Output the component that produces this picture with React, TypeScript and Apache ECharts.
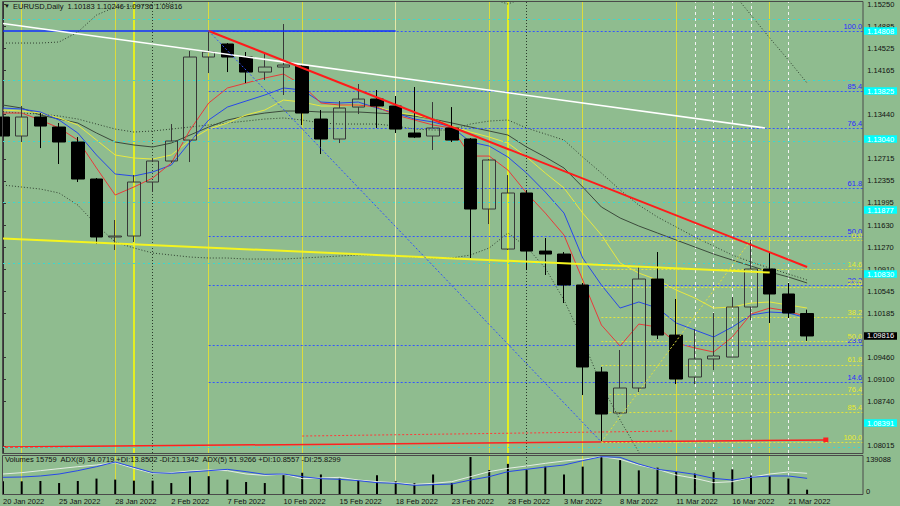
import React, { useEffect, useRef } from 'react';
import * as echarts from 'echarts';

const dates = ['20 Jan 2022','21 Jan 2022','24 Jan 2022','25 Jan 2022','26 Jan 2022','27 Jan 2022','28 Jan 2022','31 Jan 2022','1 Feb 2022','2 Feb 2022','3 Feb 2022','4 Feb 2022','7 Feb 2022','8 Feb 2022','9 Feb 2022','10 Feb 2022','11 Feb 2022','14 Feb 2022','15 Feb 2022','16 Feb 2022','17 Feb 2022','18 Feb 2022','21 Feb 2022','22 Feb 2022','23 Feb 2022','24 Feb 2022','25 Feb 2022','28 Feb 2022','1 Mar 2022','2 Mar 2022','3 Mar 2022','4 Mar 2022','7 Mar 2022','8 Mar 2022','9 Mar 2022','10 Mar 2022','11 Mar 2022','14 Mar 2022','15 Mar 2022','16 Mar 2022','17 Mar 2022','18 Mar 2022','21 Mar 2022','22 Mar 2022'];

const opens = [1.13400,1.13089,1.13400,1.13236,1.12991,1.12385,1.11436,1.11452,1.12336,1.12680,1.13023,1.14382,1.14595,1.14382,1.14136,1.14218,1.14235,1.13367,1.13040,1.13563,1.13694,1.13580,1.13138,1.13089,1.13220,1.13040,1.11894,1.11239,1.12156,1.11206,1.11157,1.10650,1.09226,1.08555,1.08964,1.10748,1.09831,1.09144,1.09439,1.09471,1.10290,1.10912,1.10503,1.10183];
const closes = [1.13089,1.13400,1.13252,1.12991,1.12385,1.11436,1.11452,1.12336,1.12680,1.13007,1.14382,1.14464,1.14382,1.14136,1.14218,1.14251,1.13465,1.13040,1.13547,1.13694,1.13580,1.13203,1.13072,1.13220,1.13023,1.11894,1.12696,1.12156,1.11206,1.11157,1.10650,1.09308,1.08538,1.08964,1.10748,1.09831,1.09111,1.09439,1.09488,1.10290,1.10912,1.10503,1.10192,1.09816];
const lows = [1.12942,1.12991,1.12892,1.12631,1.12336,1.11321,1.11223,1.11354,1.12172,1.12647,1.12663,1.14120,1.14136,1.13956,1.14005,1.13760,1.13269,1.12794,1.12974,1.13449,1.13220,1.13138,1.13056,1.12860,1.12991,1.11092,1.11648,1.11223,1.10895,1.10814,1.10355,1.08849,1.08080,1.08538,1.08898,1.09766,1.09029,1.09029,1.09258,1.09471,1.10077,1.10028,1.10110,1.09736];
const highs = [1.13596,1.13580,1.13465,1.13302,1.13072,1.12401,1.11714,1.12450,1.12729,1.13285,1.14480,1.14808,1.14611,1.14464,1.14447,1.14922,1.14267,1.13514,1.13662,1.13940,1.13842,1.13744,1.13891,1.13645,1.13563,1.13056,1.12712,1.12450,1.12205,1.11419,1.11190,1.10683,1.09308,1.09586,1.10945,1.11190,1.10421,1.09930,1.10192,1.10453,1.11386,1.11190,1.10683,1.10246];

const maRed = [1.13465,1.13465,1.13351,1.13220,1.13023,1.12565,1.12123,1.12254,1.12401,1.12647,1.13187,1.13629,1.13875,1.13956,1.14038,1.14104,1.13924,1.13629,1.13596,1.13596,1.13563,1.13433,1.13351,1.13269,1.13220,1.12761,1.12761,1.12532,1.12156,1.11828,1.11468,1.10732,1.09995,1.09651,1.10011,1.09962,1.09700,1.09619,1.09553,1.09799,1.10175,1.10273,1.10224,1.10126];
const maBlue = [1.13547,1.13531,1.13482,1.13351,1.13138,1.12778,1.12467,1.12434,1.12500,1.12614,1.12991,1.13351,1.13563,1.13662,1.13760,1.13875,1.13842,1.13645,1.13629,1.13645,1.13547,1.13465,1.13367,1.13318,1.13236,1.12991,1.12925,1.12745,1.12483,1.12172,1.11828,1.11092,1.10650,1.10273,1.10372,1.10273,1.10028,1.09913,1.09799,1.09962,1.10159,1.10208,1.10192,1.10110];
const maYellow = [1.13514,1.13498,1.13465,1.13384,1.13269,1.13023,1.12778,1.12729,1.12712,1.12778,1.13023,1.13203,1.13302,1.13433,1.13514,1.13678,1.13645,1.13580,1.13580,1.13596,1.13563,1.13482,1.13433,1.13367,1.13252,1.13154,1.13072,1.12974,1.12745,1.12483,1.12238,1.11828,1.11468,1.11010,1.10846,1.10732,1.10568,1.10437,1.10273,1.10290,1.10355,1.10372,1.10323,1.10273];
const maSlow = [1.13596,1.13547,1.13433,1.13367,1.13302,1.13138,1.12991,1.12942,1.12909,1.12974,1.13105,1.13236,1.13351,1.13416,1.13465,1.13498,1.13498,1.13482,1.13482,1.13482,1.13465,1.13449,1.13416,1.13367,1.13302,1.13236,1.13171,1.13105,1.12909,1.12745,1.12565,1.12254,1.11927,1.11747,1.11616,1.11501,1.11386,1.11272,1.11157,1.11059,1.10961,1.10863,1.10781,1.10683];
const bandMid = [1.13482,1.13465,1.13449,1.13416,1.13367,1.13285,1.13203,1.13154,1.13171,1.13203,1.13236,1.13269,1.13302,1.13334,1.13367,1.13384,1.13351,1.13302,1.13285,1.13285,1.13285,1.13252,1.13203,1.13187,1.13187,1.13285,1.13334,1.13351,1.13220,1.13122,1.13023,1.12745,1.12483,1.12205,1.11959,1.11763,1.11599,1.11436,1.11288,1.11141,1.11026,1.10928,1.10830,1.10732];
const bandLower = [1.12287,1.12254,1.12221,1.12156,1.11959,1.11632,1.11354,1.11256,1.11174,1.11141,1.11108,1.11092,1.11092,1.11075,1.11075,1.11075,1.11092,1.11108,1.11125,1.11141,1.11141,1.11125,1.11108,1.11092,1.11092,1.11141,1.11256,1.11501,1.11272,1.10928,1.10404,1.09750,1.09013,1.08440,1.07916,1.07294,null,null,null,null,null,null,null,null];
const bandUpper = [1.14611,1.14611,1.14611,1.14628,1.14791,1.15069,1.15200,1.15217,1.15233,1.15266,1.15479,1.15642,1.15800,1.15800,1.15800,1.15800,1.15800,1.15800,1.15800,1.15800,1.15800,1.15800,1.15800,1.15800,1.15800,1.15600,1.15348,1.15250,1.15364,1.15700,1.15700,1.15700,1.15700,1.15700,1.15700,1.15700,1.15700,1.15700,1.15700,1.15446,1.15069,1.14693,1.14333,1.13956];

const volumes = [46400,46400,47600,40100,47600,56400,52600,48900,48900,40100,63900,65200,52600,43900,40100,68900,77700,71400,56400,50100,68900,46400,40100,71400,40100,135300,87700,110300,87700,100200,71400,100200,139088,124000,86500,96500,81400,75200,80200,90200,67700,65200,56400,15759];
const adxBlue = [43.9,44.7,47.4,52.6,61.4,71.9,84.2,70.2,56.1,54.4,57.9,61.4,64.9,58.8,51.7,52.6,45.6,40.3,38.6,35.1,29.8,28.1,22.8,24.6,26.3,36.8,45.6,58.8,64.9,71.0,76.3,87.7,98.2,96.5,78.9,64.9,58.8,51.7,41.2,36.8,43.9,47.4,47.4,41.2];
const adxWhite = [52.6,56.1,61.4,66.7,71.9,76.3,82.4,67.5,54.4,56.1,60.5,63.1,61.4,52.6,49.1,52.6,40.3,42.1,43.9,36.8,32.5,29.8,25.4,28.1,32.5,45.6,58.8,67.5,73.7,80.7,86.8,91.2,98.2,91.2,76.3,64.9,50.0,41.2,29.8,32.5,43.9,52.6,57.9,54.4];

// price labels visible on the right axis (the ones under the coloured price tags are hidden in the reference)
const priceTicks = [1.08015,1.08740,1.09100,1.09460,1.10185,1.10545,1.10910,1.11270,1.11630,1.11995,1.12355,1.12715,1.13440,1.14165,1.14525,1.14885,1.15250];
const volTickLabels = ['139088', '0'];

const fibBlueLevels = [100.0, 85.4, 76.4, 61.8, 50.0, 38.2, 23.6, 14.6];
const fibBlueHigh = 1.14808, fibBlueHighIdx = 11;
const fibBlueLow = 1.08080, fibBlueLowIdx = 32;
const fibYellowLevels = [0.0, 14.6, 23.6, 38.2, 50.0, 61.8, 76.4, 85.4, 100.0];
const fibYellowHigh = 1.11386, fibYellowHighIdx = 40;
const fibYellowLow = 1.08080, fibYellowLowIdx = 32;

const cyanLevels = [1.14808, 1.13825, 1.13040, 1.11877, 1.10830, 1.08391];

const whiteTrend = [[0, 1.14932], [40.75, 1.13220]];
const redTrend = [[11, 1.14808], [43, 1.10945]];
const yellowTrend = [[0, 1.11413], [41, 1.10855]];
const blueHoriz = [[0, 1.14808], [21, 1.14808]];
const redBottom = [[0, 1.07998], [44, 1.08113]];
const redDashed = [[16, 1.08178], [35.8, 1.08260]];

const vYellow = [1, 6, 11, 16, 26, 31, 36, 41];
const vYellowBright = [7, 27];
const vPale = [21];
const vWhiteDash = [37, 38, 39, 40, 42];
const vBlackDot = [8, 28];

const headerText = 'EURUSD,Daily  1.10183 1.10246 1.09736 1.09816';
const volText = 'Volumes 15759  ADX(8) 34.0719 +DI:13.8502 -DI:21.1342  ADX(5) 51.9266 +DI:10.8557 -DI:25.8299';

const PAD = 3;
const cats = [...dates, ...Array(PAD).fill('')];
const xMax = cats.length - 1;
const yMax = 1.152827;
const yMin = 1.079002;
const volMax = 139088;
const FONT = 'Liberation Sans, Arial, sans-serif';
const FS = 7.5;

function verticalLines() {
  const d: any[] = [];
  vYellow.forEach(i => d.push({ xAxis: i, lineStyle: { color: '#dcdc3c', width: 1, type: 'solid' } }));
  vYellowBright.forEach(i => d.push({ xAxis: i, lineStyle: { color: '#ffff00', width: 1.5, type: 'solid' } }));
  vPale.forEach(i => d.push({ xAxis: i, lineStyle: { color: '#e4e8a8', width: 1, type: 'solid' } }));
  vWhiteDash.forEach(i => d.push({ xAxis: i, lineStyle: { color: '#f4f4f4', width: 1, type: [3, 3] } }));
  vBlackDot.forEach(i => d.push({ xAxis: i, lineStyle: { color: '#2a3a2a', width: 1, type: [1, 2] } }));
  return d;
}

export default function App() {
  const ref = useRef<HTMLDivElement>(null);
  useEffect(() => {
    if (!ref.current) return;
    const chart = echarts.init(ref.current, undefined, { renderer: 'svg' });

    const candleData = opens.map((o, i) => [o, closes[i], lows[i], highs[i]]);

    const blueFib = fibBlueLevels.map(L => {
      const p = fibBlueLow + (L / 100) * (fibBlueHigh - fibBlueLow);
      return [{ name: L.toFixed(1), coord: [fibBlueHighIdx, p] }, { coord: [xMax, p] }];
    });
    const yellowFib = fibYellowLevels.map(L => {
      const p = fibYellowHigh - (L / 100) * (fibYellowHigh - fibYellowLow);
      return [{ name: L.toFixed(1), coord: [fibYellowLowIdx, p] }, { coord: [xMax, p] }];
    });

    const lineBase = (data: any, color: string, width: number, type: any = 'solid', extra: any = {}) => ({
      type: 'line', xAxisIndex: 1, yAxisIndex: 0, data, symbol: 'none', silent: true,
      lineStyle: { color, width, type }, z: 6, ...extra,
    });

    const staticGraphic: any[] = [
      { type: 'rect', silent: true, z: 100, shape: { x: 2.5, y: 1.5, width: 860.5, height: 452 }, style: { fill: 'none', stroke: '#4a4a4a', lineWidth: 1 } },
      { type: 'rect', silent: true, z: 100, shape: { x: 2.5, y: 455.5, width: 860.5, height: 39 }, style: { fill: 'none', stroke: '#4a4a4a', lineWidth: 1 } },
      { type: 'text', silent: true, z: 100, left: 4, top: 3, style: { text: '▼', fontSize: 6, fill: '#111', fontFamily: FONT } },
      { type: 'text', silent: true, z: 100, left: 13, top: 2, style: { text: headerText, fontSize: FS, fill: '#111', fontFamily: FONT } },
      { type: 'text', silent: true, z: 100, left: 5, top: 455, style: { text: volText, fontSize: FS, fill: '#111', fontFamily: FONT } },
      { type: 'text', silent: true, z: 100, left: 866, top: 455, style: { text: volTickLabels[0], fontSize: FS, fill: '#111', fontFamily: FONT } },
      { type: 'text', silent: true, z: 100, left: 866, top: 487, style: { text: volTickLabels[1], fontSize: FS, fill: '#111', fontFamily: FONT } },
    ];

    const option: any = {
      animation: false,
      backgroundColor: '#8fbc8f',
      textStyle: { fontFamily: FONT },
      grid: [
        { left: 3, top: 2, width: 860.2, height: 451 },
        { left: 3, top: 456, width: 860.2, height: 38 },
      ],
      xAxis: [
        { type: 'category', gridIndex: 0, data: cats, boundaryGap: false, show: false },
        { type: 'value', gridIndex: 0, min: 0, max: xMax, show: false },
        {
          type: 'category', gridIndex: 1, data: cats, boundaryGap: false,
          axisLine: { show: false }, axisTick: { show: false }, splitLine: { show: false },
          axisLabel: { interval: 2, align: 'left', fontSize: FS, color: '#111', margin: 3, fontFamily: FONT },
        },
        { type: 'value', gridIndex: 1, min: 0, max: xMax, show: false },
      ],
      yAxis: [
        {
          type: 'value', gridIndex: 0, position: 'right', min: yMin, max: yMax,
          splitLine: { show: false },
          axisLine: { show: true, lineStyle: { color: '#333' } },
          axisTick: { show: true, length: 3, customValues: priceTicks, lineStyle: { color: '#333' } },
          axisLabel: { customValues: priceTicks, formatter: (v: number) => v.toFixed(5), fontSize: FS, color: '#111', margin: 4, fontFamily: FONT },
        },
        { type: 'value', gridIndex: 1, min: 0, max: volMax, show: false },
        { type: 'value', gridIndex: 1, min: 0, max: 100, show: false },
      ],
      series: [
        {
          type: 'candlestick', xAxisIndex: 0, yAxisIndex: 0, data: candleData, barWidth: 13, clip: false, z: 5,
          itemStyle: { color: 'rgba(0,0,0,0)', color0: '#000000', borderColor: '#383838', borderColor0: '#000000', borderWidth: 1 },
        },
        { type: 'line', xAxisIndex: 0, yAxisIndex: 0, data: bandUpper, symbol: 'none', lineStyle: { color: '#2f3f2f', width: 1, type: [1, 2] }, z: 3 },
        { type: 'line', xAxisIndex: 0, yAxisIndex: 0, data: bandMid, symbol: 'none', lineStyle: { color: '#2f3f2f', width: 1, type: [1, 2] }, z: 3 },
        { type: 'line', xAxisIndex: 0, yAxisIndex: 0, data: bandLower, symbol: 'none', lineStyle: { color: '#2f3f2f', width: 1, type: [1, 2] }, z: 3 },
        { type: 'line', xAxisIndex: 0, yAxisIndex: 0, data: maSlow, symbol: 'none', lineStyle: { color: '#3c4a3c', width: 1 }, z: 3 },
        { type: 'line', xAxisIndex: 0, yAxisIndex: 0, data: maYellow, symbol: 'none', lineStyle: { color: '#e8e840', width: 1 }, z: 3 },
        { type: 'line', xAxisIndex: 0, yAxisIndex: 0, data: maBlue, symbol: 'none', lineStyle: { color: '#2848e8', width: 1 }, z: 3 },
        { type: 'line', xAxisIndex: 0, yAxisIndex: 0, data: maRed, symbol: 'none', lineStyle: { color: '#e83a3a', width: 1 }, z: 3 },
        lineBase(redBottom.map((d, i) => i === redBottom.length - 1 ? { value: d, symbol: 'rect', symbolSize: 5 } : d), '#ff2020', 1.5, 'solid', {
          itemStyle: { color: '#ff2020' }, z: 2,
          markLine: { silent: true, symbol: ['none', 'none'], label: { show: false }, z: 1, data: verticalLines() },
        }),
        lineBase(redDashed, '#ff3a3a', 1, [2, 2]),
        lineBase(blueHoriz, '#1030ff', 1.5),
        lineBase(whiteTrend, '#ffffff', 1.5, 'solid', {
          markLine: {
            silent: true, symbol: ['none', 'none'], label: { show: false },
            data: cyanLevels.map(p => ({ yAxis: p, lineStyle: { color: '#3ad8d0', width: 1, type: [2, 3] } })),
          },
        }),
        lineBase(yellowTrend, '#f4f420', 2),
        lineBase(redTrend, '#ff1a1a', 2),
        lineBase([[fibBlueHighIdx, fibBlueHigh], [fibBlueLowIdx, fibBlueLow]], '#3050ff', 1, [2, 2], {
          markLine: {
            silent: true, symbol: ['none', 'none'],
            lineStyle: { color: '#3355ff', width: 1, type: [2, 2] },
            label: { show: true, position: 'insideEndTop', formatter: '{b}', color: '#2a2aff', fontSize: FS, distance: 1, fontFamily: FONT },
            data: blueFib,
          },
        }),
        lineBase([[fibYellowLowIdx, fibYellowLow], [fibYellowHighIdx, fibYellowHigh]], '#e0e040', 1, [2, 2], {
          markLine: {
            silent: true, symbol: ['none', 'none'],
            lineStyle: { color: '#e4e43c', width: 1, type: [2, 2] },
            label: { show: true, position: 'insideEndTop', formatter: '{b}', color: '#eaea30', fontSize: FS, distance: 1, fontFamily: FONT },
            data: yellowFib,
          },
        }),
        {
          type: 'bar', xAxisIndex: 2, yAxisIndex: 1, data: volumes, barWidth: 2, silent: true,
          itemStyle: { color: '#000000' }, z: 4,
        },
        {
          type: 'line', xAxisIndex: 3, yAxisIndex: 2, data: adxWhite.map((v, i) => [i, v]), symbol: 'none', silent: true,
          lineStyle: { color: '#e4ece4', width: 1 }, z: 5,
          markLine: { silent: true, symbol: ['none', 'none'], label: { show: false }, z: 1, data: verticalLines() },
        },
        {
          type: 'line', xAxisIndex: 3, yAxisIndex: 2, data: adxBlue.map((v, i) => [i, v]), symbol: 'none', silent: true,
          lineStyle: { color: '#2848e8', width: 1 }, z: 6,
        },
      ],
      graphic: staticGraphic,
    };
    chart.setOption(option);

    // price tags on the right axis, placed through the chart's own y scale
    const tag = (p: number, bg: string, fg: string) => {
      const y = chart.convertToPixel({ yAxisIndex: 0 }, p) as number;
      return [
        { type: 'rect', silent: true, z: 110, shape: { x: 864, y: y - 3.8, width: 33, height: 7.6 }, style: { fill: bg } },
        { type: 'text', silent: true, z: 111, x: 880.5, y, style: { text: p.toFixed(5), fontSize: FS, fill: fg, fontFamily: FONT, align: 'center', verticalAlign: 'middle' } },
      ];
    };
    const tags: any[] = [];
    cyanLevels.forEach(p => tags.push(...tag(p, '#00ffff', '#ffffff')));
    tags.push(...tag(closes[closes.length - 1], '#000000', '#ffffff'));
    chart.setOption({ graphic: [...staticGraphic, ...tags] });

    return () => chart.dispose();
  }, []);
  return <div ref={ref} style={{ position: 'fixed', left: 0, top: 0, width: 900, height: 506 }} />;
}
